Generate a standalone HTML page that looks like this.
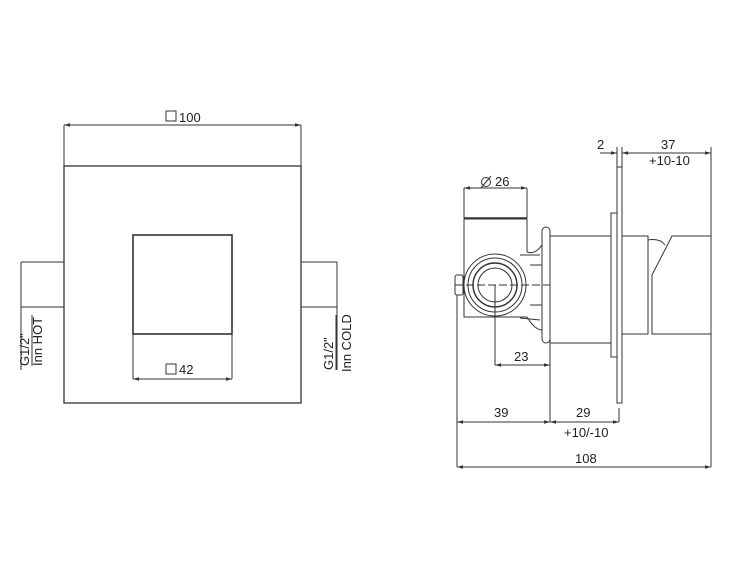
<!DOCTYPE html>
<html><head><meta charset="utf-8"><style>
html,body{margin:0;padding:0;background:#fff;width:750px;height:569px;overflow:hidden}
text{font-family:"Liberation Sans",sans-serif;fill:#222}
</style></head><body>
<svg width="750" height="569" viewBox="0 0 750 569" xmlns="http://www.w3.org/2000/svg">
<defs>
<marker id="a" viewBox="0 0 10 10" refX="10" refY="5" markerWidth="6" markerHeight="6" orient="auto-start-reverse"><path d="M0,2 L10,5 L0,8 z" fill="#333"/></marker>
</defs>
<g stroke="#333" stroke-width="1" fill="none">
<rect x="64" y="166" width="237" height="237" stroke-width="1.3"/>
<line x1="64" y1="125" x2="64" y2="166"/><line x1="301" y1="125" x2="301" y2="166"/>
<line x1="64" y1="125" x2="301" y2="125" marker-start="url(#a)" marker-end="url(#a)"/>
<rect x="133" y="235" width="99" height="99" stroke-width="1.6"/>
<line x1="133" y1="334" x2="133" y2="379"/><line x1="232" y1="334" x2="232" y2="379"/>
<line x1="133" y1="379" x2="232" y2="379" marker-start="url(#a)" marker-end="url(#a)"/>
<rect x="166" y="364" width="10" height="10"/>
<rect x="166" y="111" width="10" height="10"/>
<line x1="21" y1="262" x2="64" y2="262"/><line x1="21" y1="307" x2="64" y2="307"/>
<line x1="21" y1="262" x2="21" y2="370"/>
<line x1="301" y1="262" x2="337" y2="262"/><line x1="301" y1="307" x2="337" y2="307"/>
<line x1="337" y1="262" x2="337" y2="370"/>
<rect x="617" y="167" width="5" height="236"/>
<line x1="617" y1="147" x2="617" y2="167"/><line x1="622" y1="147" x2="622" y2="167"/>
<line x1="711" y1="147" x2="711" y2="467"/>
<line x1="600" y1="153" x2="617" y2="153" marker-end="url(#a)"/>
<line x1="622" y1="153" x2="711" y2="153" marker-start="url(#a)" marker-end="url(#a)"/>
<rect x="611" y="213" width="6" height="144"/>
<rect x="550" y="236" width="61" height="107"/>
<path d="M622,236 L648,236 L648,334 L622,334"/>
<path d="M648,240 Q660,238 665,245"/>
<path d="M652,334 L652,275 L672,236 L711,236 L711,334 Z"/>
<rect x="542" y="227" width="8" height="116" rx="4"/>
<path d="M464,300 L464,219 L527,219 L527,252"/>
<line x1="464" y1="218" x2="527" y2="218" stroke-width="1.5"/>
<line x1="464" y1="188" x2="464" y2="218"/><line x1="527" y1="188" x2="527" y2="218"/>
<line x1="464" y1="188" x2="527" y2="188" marker-start="url(#a)" marker-end="url(#a)"/>
<circle cx="486" cy="182" r="4.5"/><line x1="481" y1="188" x2="491" y2="176"/>
<path d="M464,300 L464,317 L527,317"/>
<path d="M527,252 Q535,255 542,245 M527,317 Q535,330 542,330"/>
<path d="M520,255 L540,255 M520,318 L540,320 M530,265 L542,265 M530,305 L542,305"/>
<circle cx="495" cy="285" r="31"/>
<circle cx="495" cy="285" r="27"/>
<circle cx="495" cy="285" r="22" stroke-width="1.4"/>
<circle cx="495" cy="285" r="17"/>
<rect x="455" y="275" width="8" height="20" rx="2"/>
<line x1="455" y1="285" x2="550" y2="285" stroke-dasharray="8,3"/>
<line x1="495" y1="285" x2="495" y2="365"/>
<line x1="550" y1="343" x2="550" y2="422"/>
<line x1="495" y1="365" x2="550" y2="365" marker-start="url(#a)" marker-end="url(#a)"/>
<line x1="457" y1="295" x2="457" y2="467"/>
<line x1="619" y1="408" x2="619" y2="422"/>
<line x1="457" y1="422" x2="550" y2="422" marker-start="url(#a)" marker-end="url(#a)"/>
<line x1="550" y1="422" x2="619" y2="422" marker-start="url(#a)" marker-end="url(#a)"/>
<line x1="457" y1="467" x2="711" y2="467" marker-start="url(#a)" marker-end="url(#a)"/>
</g>
<g font-size="13">
<text x="179" y="122">100</text>
<text x="179" y="374">42</text>
<text x="495" y="186">26</text>
<text x="597" y="149">2</text>
<text x="661" y="149">37</text>
<text x="649" y="165">+10-10</text>
<text x="514" y="361">23</text>
<text x="494" y="417">39</text>
<text x="576" y="417">29</text>
<text x="564" y="437">+10/-10</text>
<text x="575" y="463">108</text>
</g>
<g font-size="13">
<text transform="translate(29,366) rotate(-90)">G1/2"</text>
<line x1="32" y1="315" x2="32" y2="366" stroke="#333"/>
<text transform="translate(42,366) rotate(-90)">Inn HOT</text>
<text transform="translate(333,370) rotate(-90)">G1/2"</text>
<line x1="336" y1="315" x2="336" y2="370" stroke="#333"/>
<text transform="translate(351,372) rotate(-90)">Inn COLD</text>
</g>
</svg>
</body></html>
